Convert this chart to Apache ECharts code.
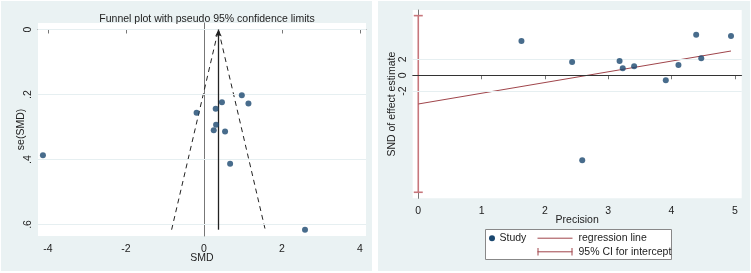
<!DOCTYPE html>
<html>
<head>
<meta charset="utf-8">
<script src="https://cdn.jsdelivr.net/npm/echarts@6/dist/echarts.min.js"></script>
<style>
  html, body { margin: 0; padding: 0; background: #fff; }
  #wrap { position: relative; width: 751px; height: 273px; }
  .panel { position: absolute; background: #eaf2f3; }
  #chart { position: absolute; left: 0; top: 0; width: 751px; height: 273px; }
</style>
</head>
<body>
<div id="wrap">
  <div class="panel" style="left:1px;top:1px;width:371px;height:270px"></div>
  <div class="panel" style="left:378px;top:1px;width:372px;height:270px"></div>
  <div id="chart"></div>
</div>
<script>
// funnel plot (left)
const smd = [0.97, 1.14, 0.46, 0.30, -0.19, 0.31, 0.25, 0.54, 0.67, -4.13, 2.59];
const seSmd = [0.202, 0.228, 0.224, 0.244, 0.256, 0.293, 0.310, 0.314, 0.413, 0.387, 0.616];
const pooledSmd = 0.37;
const funnelSmd = [-0.83, 0.37, 1.57];
const funnelSe = [0.616, 0, 0.616];
const smdTicks = [-4, -2, 0, 2, 4];
const seTicks = [0, 0.2, 0.4, 0.6];
const seTickLabels = ['0', '.2', '.4', '.6'];

// Egger regression (right)
const precision = [1.63, 2.43, 2.59, 3.18, 3.23, 3.41, 3.91, 4.11, 4.39, 4.47, 4.94];
const snd = [4.33, 1.68, -10.72, 1.80, 0.88, 1.13, -0.63, 1.30, 5.12, 2.14, 4.96];
const regPrecision = [0, 4.94];
const regSnd = [-3.62, 3.06];
const ciIntercept = [0, -14.75, 7.52]; // precision, lower, upper
const precTicks = [0, 1, 2, 3, 4, 5];
const sndTicks = [-2, 0, 2];

const font = "'Liberation Sans', Arial, sans-serif";
const navy = '#1a476f';
const maroon = '#a0454b';

const axisCommon = {
  axisLine: { show: true, lineStyle: { color: '#777', width: 1 } },
  axisTick: { show: true, length: 4, lineStyle: { color: '#777' } },
  splitLine: { show: false },
  nameMoveOverlap: false,
  nameTextStyle: { fontFamily: font, fontSize: 10.5, color: '#222' },
};

function gridLines(values) {
  return values.map(v => ({ yAxis: v }));
}

const chart = echarts.init(document.getElementById('chart'), null, { renderer: 'canvas' });

chart.setOption({
  animation: false,
  backgroundColor: 'transparent',
  title: {
    text: 'Funnel plot with pseudo 95% confidence limits',
    left: 202, top: 9, textAlign: 'center',
    textStyle: { fontFamily: font, fontSize: 10.5, fontWeight: 'normal', color: '#222' }
  },
  grid: [
    { left: 38, top: 23, width: 328, height: 213, show: true, backgroundColor: '#fff', borderWidth: 0 },
    { left: 412.7, top: 10, width: 329, height: 188.3, show: true, backgroundColor: '#fff', borderWidth: 0 }
  ],
  xAxis: [
    Object.assign({}, axisCommon, {
      gridIndex: 0, type: 'value', min: -4.256, max: 4.154,
      name: 'SMD', nameLocation: 'middle', nameGap: 16.5,
      axisTick: Object.assign({}, axisCommon.axisTick, { customValues: smdTicks }),
      axisLabel: { customValues: smdTicks, margin: 7.5, fontFamily: font, fontSize: 10.5, color: '#222' }
    }),
    Object.assign({}, axisCommon, {
      gridIndex: 1, type: 'value', min: -0.088, max: 5.109,
      name: 'Precision', nameLocation: 'middle', nameGap: 16.5,
      axisTick: Object.assign({}, axisCommon.axisTick, { customValues: precTicks }),
      axisLabel: { customValues: precTicks, margin: 7, fontFamily: font, fontSize: 10.5, color: '#222' }
    })
  ],
  yAxis: [
    Object.assign({}, axisCommon, {
      gridIndex: 0, type: 'value', inverse: true, min: -0.02, max: 0.6354,
      name: 'se(SMD)', nameLocation: 'middle', nameGap: 11, nameRotate: 90,
      axisTick: Object.assign({}, axisCommon.axisTick, { customValues: seTicks }),
      axisLabel: {
        customValues: seTicks, rotate: 90, margin: 4,
        fontFamily: font, fontSize: 10.5, color: '#222',
        formatter: v => {
          const i = seTicks.findIndex(t => Math.abs(t - v) < 1e-6);
          return i >= 0 ? seTickLabels[i] : '';
        }
      }
    }),
    Object.assign({}, axisCommon, {
      gridIndex: 1, type: 'value', min: -15.51, max: 8.23,
      name: 'SND of effect estimate', nameLocation: 'middle', nameGap: 15, nameRotate: 90,
      axisTick: Object.assign({}, axisCommon.axisTick, { customValues: sndTicks }),
      axisLabel: { customValues: sndTicks, rotate: 90, margin: 4, fontFamily: font, fontSize: 10.5, color: '#222' }
    })
  ],
  series: [
    // left grid lines
    {
      type: 'scatter', xAxisIndex: 0, yAxisIndex: 0, data: [], z: 1, silent: true,
      markLine: {
        silent: true, symbol: 'none', label: { show: false },
        lineStyle: { color: '#e6eff1', width: 1, type: 'solid' },
        data: gridLines(seTicks)
      }
    },
    // funnel limits + pooled estimate
    {
      type: 'line', xAxisIndex: 0, yAxisIndex: 0, z: 3, silent: true,
      data: funnelSmd.map((x, i) => [x, funnelSe[i]]),
      symbol: 'none',
      lineStyle: { color: '#222', width: 1, type: [5, 4] },
      markLine: {
        silent: true, symbol: ['none', 'arrow'], symbolSize: [5, 7],
        label: { show: false },
        lineStyle: { color: '#222', width: 1.3, type: 'solid' },
        data: [[{ coord: [pooledSmd, Math.max(...seSmd)] }, { coord: [pooledSmd, 0] }]]
      }
    },
    {
      type: 'scatter', xAxisIndex: 0, yAxisIndex: 0, z: 5,
      data: smd.map((x, i) => [x, seSmd[i]]),
      symbolSize: 6, itemStyle: { color: navy }
    },
    // right grid lines + zero line
    {
      type: 'scatter', xAxisIndex: 1, yAxisIndex: 1, data: [], z: 1, silent: true,
      markLine: {
        silent: true, symbol: 'none', label: { show: false },
        lineStyle: { color: '#e6eff1', width: 1, type: 'solid' },
        data: gridLines(sndTicks.filter(v => v !== 0))
      }
    },
    {
      type: 'scatter', xAxisIndex: 1, yAxisIndex: 1, data: [], z: 2, silent: true,
      markLine: {
        silent: true, symbol: 'none', label: { show: false },
        lineStyle: { color: '#333', width: 1, type: 'solid' },
        data: [{ yAxis: 0 }]
      }
    },
    {
      type: 'custom', xAxisIndex: 1, yAxisIndex: 1, z: 3, silent: true,
      data: [ciIntercept],
      renderItem: (params, api) => {
        const lo = api.coord([api.value(0), api.value(1)]);
        const hi = api.coord([api.value(0), api.value(2)]);
        const style = { stroke: '#c7777c', lineWidth: 1.6 };
        return {
          type: 'group',
          children: [
            { type: 'line', shape: { x1: lo[0], y1: lo[1], x2: hi[0], y2: hi[1] }, style },
            { type: 'line', shape: { x1: lo[0] - 4.5, y1: lo[1], x2: lo[0] + 4.5, y2: lo[1] }, style },
            { type: 'line', shape: { x1: hi[0] - 4.5, y1: hi[1], x2: hi[0] + 4.5, y2: hi[1] }, style }
          ]
        };
      }
    },
    {
      type: 'line', xAxisIndex: 1, yAxisIndex: 1, z: 4, silent: true,
      data: regPrecision.map((x, i) => [x, regSnd[i]]),
      symbol: 'none', lineStyle: { color: maroon, width: 1 }
    },
    {
      type: 'scatter', xAxisIndex: 1, yAxisIndex: 1, z: 5,
      data: precision.map((x, i) => [x, snd[i]]),
      symbolSize: 6, itemStyle: { color: navy }
    }
  ],
  graphic: [
    {
      type: 'group', left: 485, top: 229,
      children: [
        { type: 'rect', shape: { x: 0, y: 0, width: 186, height: 30 }, style: { fill: '#fff', stroke: '#888', lineWidth: 1 } },
        { type: 'circle', shape: { cx: 6.5, cy: 8.7, r: 3 }, style: { fill: navy } },
        { type: 'text', x: 14, y: 8.7, style: { text: 'Study', font: '10.5px ' + font, fill: '#222', textVerticalAlign: 'middle' } },
        { type: 'line', shape: { x1: 52, y1: 8.7, x2: 87, y2: 8.7 }, style: { stroke: maroon, lineWidth: 1 } },
        { type: 'text', x: 93, y: 8.7, style: { text: 'regression line', font: '10.5px ' + font, fill: '#222', textVerticalAlign: 'middle' } },
        { type: 'line', shape: { x1: 52, y1: 22.3, x2: 87, y2: 22.3 }, style: { stroke: maroon, lineWidth: 1 } },
        { type: 'line', shape: { x1: 52.5, y1: 18.5, x2: 52.5, y2: 26 }, style: { stroke: maroon, lineWidth: 1 } },
        { type: 'line', shape: { x1: 86.5, y1: 18.5, x2: 86.5, y2: 26 }, style: { stroke: maroon, lineWidth: 1 } },
        { type: 'text', x: 93, y: 22.3, style: { text: '95% CI for intercept', font: '10.5px ' + font, fill: '#222', textVerticalAlign: 'middle' } }
      ]
    }
  ]
});
</script>
</body>
</html>
